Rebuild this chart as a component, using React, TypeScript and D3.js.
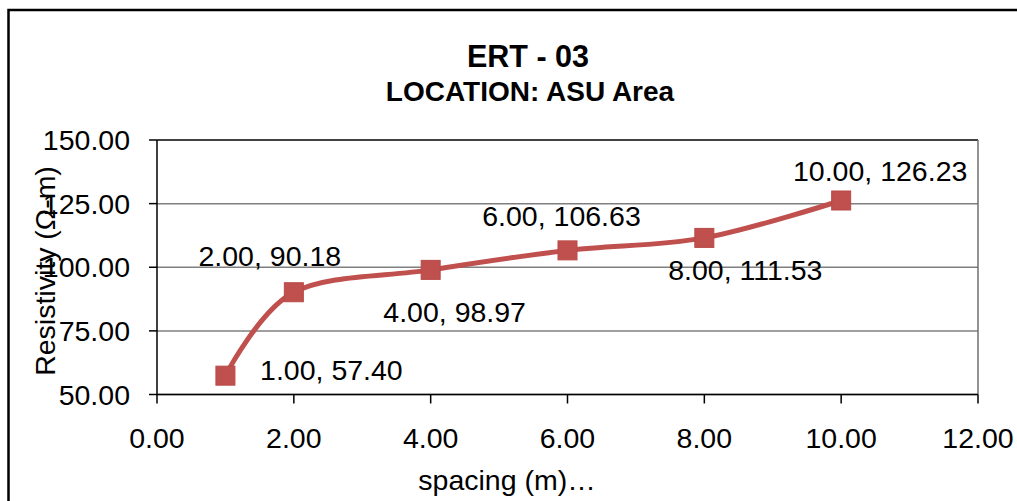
import React from "react";
import * as d3 from "d3";

const spacing = [1, 2, 4, 6, 8, 10];
const resistivity = [57.4, 90.18, 98.97, 106.63, 111.53, 126.23];
const xTicks = [0, 2, 4, 6, 8, 10, 12];
const yTicks = [50, 75, 100, 125, 150];
const titleLines = ["ERT - 03", "LOCATION: ASU Area"];
const xTitle = "spacing (m)…";
const yTitle = "Resistivity (Ω-m)";
// label offsets (dx, dy baseline) relative to each point
const labelOffsets: [number, number][] = [
  [106, 4],
  [-24, -26],
  [24, 52],
  [-6, -24],
  [41, 42],
  [39, -19],
];

const W = 1017;
const H = 501;
const M = { left: 157, right: 978, top: 140, bottom: 394.5 };
const RED = "#C0504D";
const FONT = "'Liberation Sans', Arial, sans-serif";

export default function App() {
  const x = d3.scaleLinear().domain([0, 12]).range([M.left, M.right]);
  const y = d3.scaleLinear().domain([50, 150]).range([M.bottom, M.top]);
  const pts = spacing.map((s, i) => [x(s), y(resistivity[i])] as [number, number]);
  const line = d3.line().curve(d3.curveCatmullRom.alpha(0))(pts) || "";
  const fmt = d3.format(".2f");

  return (
    <svg
      width={W}
      height={H}
      style={{ position: "absolute", left: 0, top: 0, background: "#fff" }}
      fontFamily={FONT}
    >
      <rect x={0} y={0} width={W} height={H} fill="#fff" />
      {/* outer border */}
      <rect x={8.5} y={10} width={W + 20} height={H + 20} fill="none" stroke="#000" strokeWidth={2.5} />

      {/* gridlines */}
      {yTicks.map((t) => (
        <line key={"g" + t} x1={M.left} x2={M.right} y1={y(t)} y2={y(t)} stroke="#7f7f7f" strokeWidth={1.5} />
      ))}
      {/* plot border top/right */}
      <line x1={M.left} x2={M.right} y1={M.top} y2={M.top} stroke="#222" strokeWidth={1.5} />
      <line x1={M.right} x2={M.right} y1={M.top} y2={M.bottom} stroke="#6f6f6f" strokeWidth={1.5} />

      {/* axes */}
      <line x1={M.left} x2={M.left} y1={M.top} y2={M.bottom} stroke="#000" strokeWidth={1.5} />
      <line x1={M.left} x2={M.right} y1={M.bottom} y2={M.bottom} stroke="#000" strokeWidth={1.5} />
      {yTicks.map((t) => (
        <g key={"yt" + t}>
          <line x1={M.left - 8} x2={M.left} y1={y(t)} y2={y(t)} stroke="#000" strokeWidth={1.5} />
          <text x={130} y={y(t) + 10} textAnchor="end" fontSize={28.5} fill="#000">
            {fmt(t)}
          </text>
        </g>
      ))}
      {xTicks.map((t) => (
        <g key={"xt" + t}>
          <line x1={x(t)} x2={x(t)} y1={M.bottom} y2={M.bottom + 9} stroke="#000" strokeWidth={1.5} />
          <text x={x(t)} y={448} textAnchor="middle" fontSize={28.5} fill="#000">
            {fmt(t)}
          </text>
        </g>
      ))}

      {/* series */}
      <path d={line} fill="none" stroke={RED} strokeWidth={5} strokeLinejoin="round" />
      {pts.map(([px, py], i) => (
        <rect key={"m" + i} x={px - 9.5} y={py - 9.5} width={19} height={19} fill={RED} stroke="#b84a47" strokeWidth={1} />
      ))}
      {pts.map(([px, py], i) => (
        <text
          key={"l" + i}
          x={px + labelOffsets[i][0]}
          y={py + labelOffsets[i][1]}
          textAnchor="middle"
          fontSize={28.5}
          fill="#000"
        >
          {fmt(spacing[i]) + ", " + fmt(resistivity[i])}
        </text>
      ))}

      {/* titles */}
      <text x={528} y={67} textAnchor="middle" fontSize={30.5} fontWeight="bold" fill="#000">
        {titleLines[0]}
      </text>
      <text x={530} y={101} textAnchor="middle" fontSize={28} fontWeight="bold" fill="#000">
        {titleLines[1]}
      </text>
      <text x={507} y={490} textAnchor="middle" fontSize={28.5} fill="#000">
        {xTitle}
      </text>
      <text
        transform={`translate(55, ${271}) rotate(-90)`}
        textAnchor="middle"
        fontSize={28.5}
        fill="#000"
      >
        {yTitle}
      </text>
    </svg>
  );
}
